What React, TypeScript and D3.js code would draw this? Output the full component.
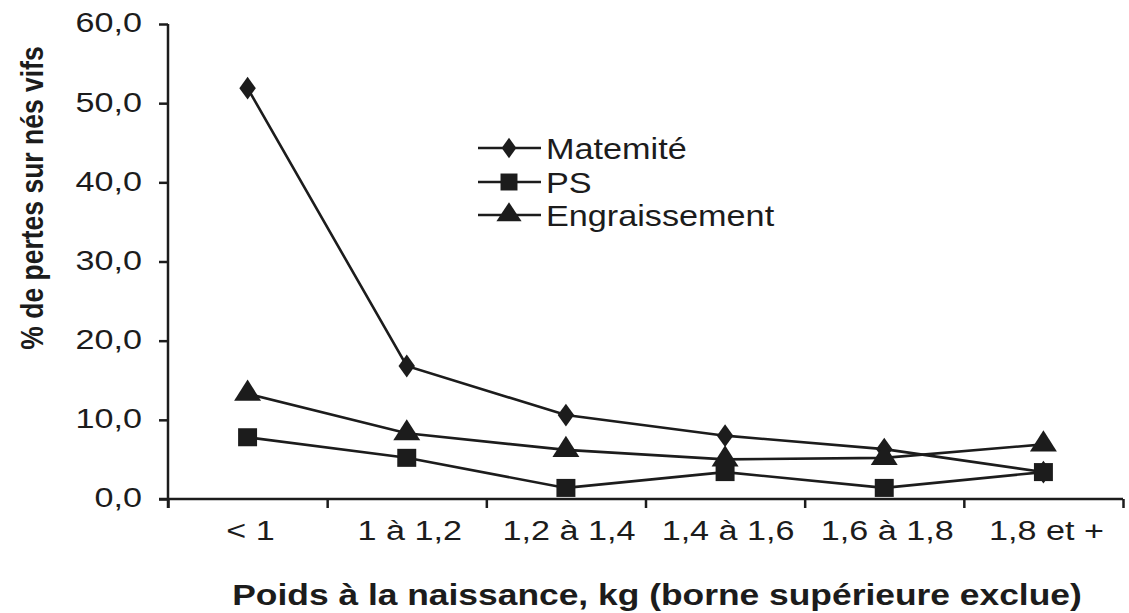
import React, { useEffect, useRef } from "react";
import * as d3 from "d3";

const categories = ["< 1", "1 à 1,2", "1,2 à 1,4", "1,4 à 1,6", "1,6 à 1,8", "1,8 et +"];
const maternite = [51.9, 16.8, 10.6, 8.0, 6.3, 3.4];
const ps = [7.8, 5.2, 1.4, 3.4, 1.4, 3.4];
const engraissement = [13.3, 8.3, 6.2, 5.0, 5.2, 6.9];
const yTicks = [0, 10, 20, 30, 40, 50, 60];
const seriesNames = ["Matemité", "PS", "Engraissement"];

const INK = "#1c1c1c";
const FONT = "'Liberation Sans', Arial, sans-serif";
const SX = 1.22; // the reference text is stretched horizontally

export default function App() {
  const svgRef = useRef<SVGSVGElement | null>(null);

  useEffect(() => {
    if (!svgRef.current) return;
    const svg = d3.select(svgRef.current);
    svg.selectAll("*").remove();

    const left = 168;
    const right = 1123;
    const top = 24;
    const bottom = 499;

    const y = d3.scaleLinear().domain([0, 60]).range([bottom, top]);
    const x = d3.scaleBand<string>().domain(categories).range([left, right]);
    const edges = d3.scaleLinear().domain([0, categories.length]).range([left, right]);
    const cx = (c: string) => (x(c) as number) + x.bandwidth() / 2;

    // Y axis
    const yAxis = svg
      .append("g")
      .attr("transform", `translate(${left},0)`)
      .call(
        d3
          .axisLeft(y)
          .tickValues(yTicks)
          .tickSize(9)
          .tickSizeOuter(0)
          .tickFormat((d) => d3.format(".1f")(d as number).replace(".", ","))
      );
    yAxis.select(".domain").remove();
    yAxis.selectAll("line").attr("stroke", INK).attr("stroke-width", 2.5);
    yAxis
      .selectAll("text")
      .attr("fill", INK)
      .attr("font-family", FONT)
      .attr("font-size", 28)
      .attr("x", -26 / SX)
      .attr("dy", "0.28em")
      .attr("transform", `scale(${SX},1)`);

    // X axis: ticks at the class boundaries
    const xAxis = svg
      .append("g")
      .attr("transform", `translate(0,${bottom})`)
      .call(
        d3
          .axisBottom(edges)
          .tickValues(d3.range(categories.length + 1))
          .tickSize(9)
          .tickSizeOuter(0)
          .tickFormat(() => "")
      );
    xAxis.select(".domain").remove();
    xAxis.selectAll("line").attr("stroke", INK).attr("stroke-width", 2.5);

    // X labels at band centres
    const xLabels = svg
      .append("g")
      .attr("transform", `translate(0,${bottom})`)
      .call(d3.axisBottom(x).tickSize(0).tickSizeOuter(0));
    xLabels.select(".domain").remove();
    xLabels
      .selectAll("g.tick")
      .attr("transform", (d) => `translate(${cx(d as string) + 3},0)`);
    xLabels
      .selectAll("text")
      .attr("fill", INK)
      .attr("font-family", FONT)
      .attr("font-size", 28)
      .attr("y", 41)
      .attr("dy", 0)
      .attr("transform", `scale(${SX},1)`);

    // axis lines
    svg
      .append("line")
      .attr("x1", left)
      .attr("x2", left)
      .attr("y1", y(60))
      .attr("y2", bottom + 9)
      .attr("stroke", INK)
      .attr("stroke-width", 2.5);
    svg
      .append("line")
      .attr("x1", left - 9)
      .attr("x2", right)
      .attr("y1", bottom)
      .attr("y2", bottom)
      .attr("stroke", INK)
      .attr("stroke-width", 2.5);

    const series = [maternite, ps, engraissement];
    const symbols = [d3.symbolDiamond, d3.symbolSquare, d3.symbolTriangle];
    const sizes = [150, 360, 260];

    const line = d3
      .line<number>()
      .x((_, i) => cx(categories[i]))
      .y((d) => y(d));

    series.forEach((vals, s) => {
      svg
        .append("path")
        .datum(vals)
        .attr("fill", "none")
        .attr("stroke", INK)
        .attr("stroke-width", 2.6)
        .attr("d", line);
    });

    series.forEach((vals, s) => {
      const sym = d3.symbol().type(symbols[s]).size(sizes[s]);
      svg
        .append("g")
        .selectAll("path")
        .data(vals)
        .join("path")
        .attr("d", sym)
        .attr("fill", INK)
        .attr(
          "transform",
          (d, i) =>
            `translate(${cx(categories[i])},${y(d)}) scale(${s === 0 ? "1.25,1" : s === 2 ? "1.1,1" : "1,0.95"})`
        );
    });

    // Legend
    const legendRows = [148, 182, 215];
    const lg = svg.append("g");
    seriesNames.forEach((name, s) => {
      const ry = legendRows[s];
      lg.append("line")
        .attr("x1", 478)
        .attr("x2", 541)
        .attr("y1", ry)
        .attr("y2", ry)
        .attr("stroke", INK)
        .attr("stroke-width", 2.6);
      lg.append("path")
        .attr("d", d3.symbol().type(symbols[s]).size(sizes[s] * 0.8)())
        .attr("fill", INK)
        .attr("transform", `translate(509,${ry}) scale(${s === 0 ? "1.25,1" : s === 2 ? "1.15,1" : "1,1"})`);
      lg.append("text")
        .attr("transform", `translate(546,${ry + 11}) scale(1.18,1)`)
        .attr("font-family", FONT)
        .attr("font-size", 29)
        .attr("fill", INK)
        .text(name);
    });

    // Axis titles
    svg
      .append("text")
      .attr("transform", `translate(657,605) scale(1.18,1)`)
      .attr("text-anchor", "middle")
      .attr("font-family", FONT)
      .attr("font-weight", "bold")
      .attr("font-size", 30)
      .attr("fill", INK)
      .text("Poids à la naissance, kg (borne supérieure exclue)");

    svg
      .append("text")
      .attr("transform", `translate(43,198) rotate(-90) scale(1,1.2)`)
      .attr("text-anchor", "middle")
      .attr("font-family", FONT)
      .attr("font-weight", "bold")
      .attr("font-size", 26.5)
      .attr("fill", INK)
      .text("% de pertes sur nés vifs");
  }, []);

  return (
    <svg
      ref={svgRef}
      width={1129}
      height={613}
      style={{ position: "absolute", left: 0, top: 0, background: "#fff" }}
    />
  );
}
